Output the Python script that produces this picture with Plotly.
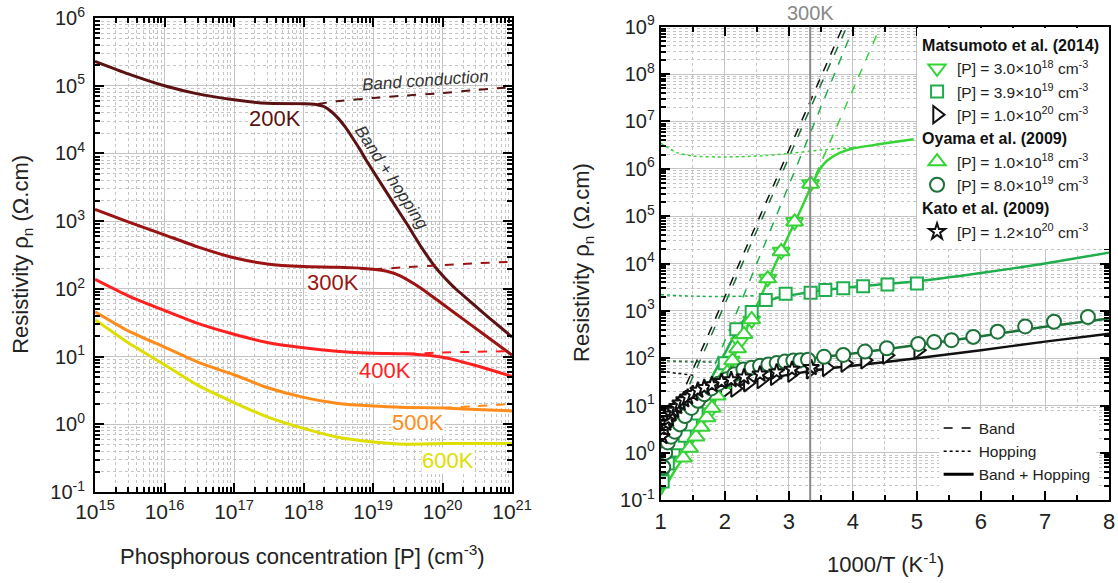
import plotly.graph_objects as go

FONT = "Liberation Sans, Arial, sans-serif"

# ---------------- Left panel data: resistivity vs [P] ----------------
P_200 = [1e15, 3e15, 1e16, 3e16, 1e17, 3e17, 1e18, 1.26e18, 1.58e18, 2e18, 2.5e18, 3.16e18, 4e18, 5e18, 6.3e18,
         7.9e18, 1e19, 2e19, 3.16e19, 5e19, 6.3e19, 7.9e19, 1e20, 1.26e20, 1.58e20, 2.24e20, 4e20, 1e21]
R_200 = [2.3e5, 1.5e5, 1.0e5, 7.6e4, 6.2e4, 5.5e4, 5.43e4, 5.4e4, 5.25e4, 4.9e4, 4.17e4, 3.3e4, 2.45e4, 1.74e4, 1.2e4,
         8.1e3, 5.5e3, 1.8e3, 8.7e2, 4.07e2, 2.88e2, 2.09e2, 1.58e2, 1.23e2, 98, 72, 42.7, 19.5]
P_200_band = [1.6e18, 3e18, 1e19, 3e19, 1e20, 3e20, 1e21]
R_200_band = [5.4e4, 5.9e4, 6.6e4, 7.2e4, 7.8e4, 8.7e4, 9.5e4]

P_300 = [1e15, 3e15, 1e16, 3e16, 1e17, 3e17, 1e18, 3.16e18, 1e19, 1.58e19, 2.5e19, 4e19, 6.3e19, 1e20, 2e20, 4e20, 1e21]
R_300 = [1.5e3, 980, 630, 417, 288, 234, 214, 209, 195, 182, 155, 117, 85, 60, 35.5, 21, 10.5]
P_300_band = [1e19, 3e19, 1e20, 3e20, 1e21]
R_300_band = [195, 209, 224, 240, 251]

P_STD = [1e15, 3e15, 1e16, 3e16, 1e17, 3e17, 1e18, 3e18, 1e19, 3e19, 1e20, 3e20, 1e21]
R_400 = [138, 79, 48, 31, 21.4, 16.2, 13.5, 12.0, 11.2, 11.0, 9.8, 7.4, 5.1]
P_400_band = [3e19, 1e20, 3e20, 1e21]
R_400_band = [11.0, 11.5, 11.8, 12.0]
R_500 = [46, 24, 13.8, 8.3, 5.4, 3.5, 2.5, 2.05, 1.86, 1.78, 1.74, 1.66, 1.58]
P_500_band = [1e20, 3e20, 1e21]
R_500_band = [1.74, 1.86, 2.0]
R_600 = [35, 16, 7.6, 3.8, 2.1, 1.29, 0.87, 0.65, 0.55, 0.51, 0.52, 0.52, 0.52]

TEMP_LABELS = ["200K", "300K", "400K", "500K", "600K"]
TEMP_COLORS = ["#5c1212", "#9b1313", "#ff2020", "#ff8c1a", "#dede00"]

P_TICKS = [1e15, 1e16, 1e17, 1e18, 1e19, 1e20, 1e21]
P_TICKTEXT = ["10<sup>15</sup>", "10<sup>16</sup>", "10<sup>17</sup>", "10<sup>18</sup>",
              "10<sup>19</sup>", "10<sup>20</sup>", "10<sup>21</sup>"]
RHO_L_TICKS = [1e-1, 1e0, 1e1, 1e2, 1e3, 1e4, 1e5, 1e6]
RHO_L_TICKTEXT = ["10<sup>-1</sup>", "10<sup>0</sup>", "10<sup>1</sup>", "10<sup>2</sup>",
                  "10<sup>3</sup>", "10<sup>4</sup>", "10<sup>5</sup>", "10<sup>6</sup>"]

# ---------------- Right panel data: resistivity vs 1000/T ----------------
# model curves (Band + Hopping)
X_M3e18 = [1.0, 1.2, 1.4, 1.6, 1.8, 2.0, 2.2, 2.4, 2.6, 2.8, 3.0, 3.2, 3.4, 3.5, 3.6, 3.8, 4.0, 4.4, 4.95]
Y_M3e18 = [0.13, 0.38, 1.0, 2.8, 8.9, 35, 160, 630, 2.6e3, 1.05e4, 4.0e4, 1.5e5, 6.0e5, 1.05e6, 1.5e6, 2.2e6, 2.7e6, 3.3e6, 4.2e6]
X_M39e19 = [1.0, 1.2, 1.4, 1.6, 1.8, 2.0, 2.2, 2.4, 2.6, 2.8, 3.0, 3.5, 4.0, 5.0, 6.0, 7.0, 8.0]
Y_M39e19 = [0.16, 0.71, 2.8, 11, 40, 126, 400, 950, 1.5e3, 1.85e3, 2.1e3, 2.7e3, 3.2e3, 4.2e3, 6.3e3, 1.0e4, 1.7e4]
X_M8e19 = [1.0, 1.2, 1.4, 1.6, 1.8, 2.0, 2.2, 2.5, 3.0, 3.5, 4.0, 5.0, 6.0, 7.0, 8.0]
Y_M8e19 = [0.8, 2.8, 7.1, 14, 25, 38, 52, 68, 85, 105, 126, 190, 290, 460, 690]
X_M1e20 = [1.0, 1.2, 1.4, 1.6, 1.8, 2.0, 2.5, 3.0, 3.5, 4.0, 5.0, 6.0, 7.0, 8.0]
Y_M1e20 = [2.2, 5.0, 8.9, 13, 18, 22, 33, 45, 58, 69, 100, 148, 224, 330]

# band-only curves (dashed)
X_B1e20 = [1.4, 1.8, 2.3, 2.8, 3.3, 3.85]
Y_B1e20 = [28, 470, 1.7e4, 5.9e5, 2.1e7, 1.05e9]
X_B8e19 = [1.45, 1.85, 2.35, 2.85, 3.35, 3.92]
Y_B8e19 = [28, 470, 1.7e4, 5.9e5, 2.1e7, 1.1e9]
X_B39e19 = [1.85, 2.0, 2.5, 3.0, 3.5, 4.02]
Y_B39e19 = [75, 230, 1.0e4, 4.5e5, 2.0e7, 1.05e9]
X_B3e18 = [3.3, 3.6, 4.0, 4.47]
Y_B3e18 = [3.2e5, 2.7e6, 4.7e7, 1.35e9]

# hopping-only curves (dotted)
X_H3e18 = [1.0, 1.25, 1.5, 2.0, 2.5, 3.0, 3.5, 4.0]
Y_H3e18 = [3.5e6, 2.2e6, 1.86e6, 1.78e6, 1.86e6, 2.1e6, 2.5e6, 2.8e6]
X_H39e19 = [1.0, 1.5, 2.0, 2.5]
Y_H39e19 = [2.2e3, 2.05e3, 2.0e3, 2.1e3]
X_H8e19 = [1.0, 1.4, 1.85]
Y_H8e19 = [89, 85, 83]
X_H1e20 = [1.0, 1.25, 1.55]
Y_H1e20 = [54, 48, 43]

# measured points
X_MAT3e18 = [1.75, 1.95, 2.1, 2.23, 2.42, 2.67, 2.88, 3.09, 3.34]
Y_MAT3e18 = [7.1, 25, 89, 220, 630, 4.8e3, 1.8e4, 7.6e4, 4.8e5]
X_MAT39e19 = [1.03, 1.11, 1.2, 1.28, 1.375, 1.47, 1.56, 1.75, 2.0, 2.18, 2.42, 2.64, 2.95, 3.34, 3.57, 3.85, 4.16, 4.54, 5.0]
Y_MAT39e19 = [0.25, 0.6, 1.12, 1.6, 2.3, 4.0, 6.8, 20, 78, 410, 950, 1.7e3, 2.3e3, 2.4e3, 2.75e3, 3.0e3, 3.3e3, 3.6e3, 3.8e3]
X_MAT1e20 = [1.1, 1.25, 1.4, 1.55, 1.7, 1.85, 2.0, 2.16, 2.36, 2.57, 2.78, 3.05, 3.34, 3.59, 3.88, 4.19, 4.53, 5.02]
Y_MAT1e20 = [3.5, 6.3, 10, 13, 16, 19, 21, 23, 30, 35, 41, 48, 56, 63, 78, 91, 115, 148]
X_OYA1e18 = [1.35, 1.45, 1.55, 1.63, 1.72, 1.8, 1.88, 1.96, 2.04, 2.12, 2.2, 2.3, 2.42, 2.67, 2.88, 3.09, 3.34]
Y_OYA1e18 = [0.79, 1.26, 2.2, 3.5, 5.6, 8.9, 16, 28, 50, 89, 160, 320, 660, 4.8e3, 1.8e4, 7.6e4, 4.8e5]
X_OYA8e19 = [1.04, 1.07, 1.11, 1.16, 1.22, 1.3, 1.38, 1.48, 1.58, 1.68, 1.79, 1.9, 2.03, 2.15, 2.29, 2.42, 2.55,
             2.68, 2.81, 2.94, 3.07, 3.18, 3.3, 3.55, 3.85, 4.19, 4.53, 5.02, 5.27, 5.54, 5.88, 6.26, 6.69, 7.14, 7.67]
Y_OYA8e19 = [0.5, 1.0, 1.66, 2.2, 2.8, 4.0, 6.0, 8.9, 12.6, 17.4, 23, 29, 36, 46, 58, 63, 69,
             74, 79, 85, 89, 91, 93, 107, 117, 138, 162, 200, 219, 240, 282, 363, 468, 589, 741]
X_KAT12e20 = [1.02, 1.05, 1.08, 1.12, 1.16, 1.2, 1.25, 1.3, 1.36, 1.42, 1.5, 1.58, 1.68, 1.8, 1.95, 2.1, 2.3, 2.55, 2.81, 3.05, 3.35]
Y_KAT12e20 = [2.2, 3.2, 4.2, 5.2, 6.6, 7.9, 9.5, 11.2, 13.2, 15, 17.8, 21, 24, 27.5, 32, 35, 40, 46, 51, 58, 63]

T_REF = 300  # K, vertical reference line
X_TICKS_R = [1, 2, 3, 4, 5, 6, 7, 8]
RHO_R_TICKS = [10.0 ** k for k in range(-1, 10)]
RHO_R_TICKTEXT = ["10<sup>%d</sup>" % k for k in range(-1, 10)]

C_BRIGHT = "#35d435"
C_MED = "#1fae4c"
C_DARK = "#1d7238"
C_BLACK = "#111111"

fig = go.Figure()

# ---- left panel traces ----
left_sets = [
    (P_200, R_200, P_200_band, R_200_band),
    (P_300, R_300, P_300_band, R_300_band),
    (P_STD, R_400, P_400_band, R_400_band),
    (P_STD, R_500, P_500_band, R_500_band),
    (P_STD, R_600, None, None),
]
for (px, ry, bx, by), col in zip(left_sets, TEMP_COLORS):
    if bx is not None:
        fig.add_trace(go.Scatter(x=bx, y=by, mode="lines", xaxis="x", yaxis="y",
                                 line=dict(color=col, width=2, dash="dash", shape="spline", smoothing=0.5),
                                 showlegend=False, hoverinfo="skip"))
    fig.add_trace(go.Scatter(x=px, y=ry, mode="lines", xaxis="x", yaxis="y",
                             line=dict(color=col, width=3, shape="spline", smoothing=0.5),
                             showlegend=False, hoverinfo="skip"))

# ---- right panel: lines ----
def rline(x, y, color, dash, width):
    fig.add_trace(go.Scatter(x=x, y=y, mode="lines", xaxis="x2", yaxis="y2",
                             line=dict(color=color, width=width, dash=dash, shape="spline", smoothing=0.6),
                             showlegend=False, hoverinfo="skip"))

rline(X_B1e20, Y_B1e20, C_BLACK, "dash", 1.5)
rline(X_B8e19, Y_B8e19, C_DARK, "dash", 1.5)
rline(X_B39e19, Y_B39e19, C_MED, "dash", 1.5)
rline(X_B3e18, Y_B3e18, C_BRIGHT, "dash", 1.5)
rline(X_H3e18, Y_H3e18, C_BRIGHT, "dot", 1.5)
rline(X_H39e19, Y_H39e19, C_MED, "dot", 1.5)
rline(X_H8e19, Y_H8e19, C_DARK, "dot", 1.5)
rline(X_H1e20, Y_H1e20, C_BLACK, "dot", 1.5)
rline(X_M1e20, Y_M1e20, C_BLACK, "solid", 2.5)
rline(X_M8e19, Y_M8e19, C_DARK, "solid", 2.5)
rline(X_M39e19, Y_M39e19, C_MED, "solid", 2.5)
rline(X_M3e18, Y_M3e18, C_BRIGHT, "solid", 2.5)

# ---- right panel: markers (legend 1) ----
def rmark(x, y, symbol, color, size, name, group, title):
    fig.add_trace(go.Scatter(
        x=x, y=y, mode="markers", xaxis="x2", yaxis="y2", name=name,
        legendgroup=group, legendgrouptitle=dict(text=title),
        marker=dict(symbol=symbol, size=size, color="white", line=dict(color=color, width=2)),
        hoverinfo="skip"))

CM3 = " cm<sup>-3</sup>"
MAT = "<b>Matsumoto et al. (2014)</b>"
OYA = "<b>Oyama et al. (2009)</b>"
KAT = "<b>Kato et al. (2009)</b>"
rmark(X_MAT3e18, Y_MAT3e18, "triangle-down", C_BRIGHT, 15, "[P] = 3.0×10<sup>18</sup>" + CM3, "mat", MAT)
rmark(X_MAT39e19, Y_MAT39e19, "square", C_MED, 12, "[P] = 3.9×10<sup>19</sup>" + CM3, "mat", MAT)
rmark(X_MAT1e20, Y_MAT1e20, "triangle-right", C_BLACK, 15, "[P] = 1.0×10<sup>20</sup>" + CM3, "mat", MAT)
rmark(X_OYA1e18, Y_OYA1e18, "triangle-up", C_BRIGHT, 15, "[P] = 1.0×10<sup>18</sup>" + CM3, "oya", OYA)
rmark(X_OYA8e19, Y_OYA8e19, "circle", C_DARK, 14, "[P] = 8.0×10<sup>19</sup>" + CM3, "oya", OYA)
rmark(X_KAT12e20, Y_KAT12e20, "star", C_BLACK, 12, "[P] = 1.2×10<sup>20</sup>" + CM3, "kat", KAT)

# ---- legend 2: line styles ----
for nm, dsh, w in [("Band", "dash", 1.5), ("Hopping", "dot", 1.5), ("Band + Hopping", "solid", 3)]:
    fig.add_trace(go.Scatter(x=[None], y=[None], mode="lines", xaxis="x2", yaxis="y2", name=nm,
                             line=dict(color="black", dash=dsh, width=w), legend="legend2"))

# ---- axes ----
def minor_log(lo, hi):
    return [m * 10.0 ** k for k in range(lo, hi) for m in range(2, 10)]

common = dict(ticks="inside", ticklen=9, tickwidth=1.5, tickcolor="black",
              showline=True, linecolor="black", linewidth=2, mirror="allticks",
              showgrid=True, gridcolor="#c4c4c4", gridwidth=1, zeroline=False, automargin=False)
minor_style = dict(ticks="inside", ticklen=5, tickcolor="black", showgrid=True,
                   gridcolor="#c4c4c4", griddash="dot")

fig.update_layout(
    width=1118, height=583, margin=dict(l=0, r=0, t=0, b=0, autoexpand=False),
    paper_bgcolor="white", plot_bgcolor="white",
    font=dict(family=FONT, color="#222"),
    xaxis=dict(domain=[0.085, 0.458], type="log", range=[15, 21], anchor="y",
               tickmode="array", tickvals=P_TICKS, ticktext=P_TICKTEXT,
               tickfont=dict(size=21, color="#222"), ticklabelstandoff=0,
               minor=dict(tickmode="array", tickvals=minor_log(15, 21), **minor_style),
               **common),
    yaxis=dict(domain=[0.156, 0.969], type="log", range=[-1, 6], anchor="x",
               tickmode="array", tickvals=RHO_L_TICKS, ticktext=RHO_L_TICKTEXT,
               tickfont=dict(size=20, color="#222"), ticklabelstandoff=4,
               minor=dict(tickmode="array", tickvals=minor_log(-1, 6), **minor_style),
               **common),
    xaxis2=dict(domain=[0.591, 0.992], range=[1, 8], anchor="y2",
                tickmode="array", tickvals=X_TICKS_R,
                tickfont=dict(size=22, color="#222"), ticklabelstandoff=0,
                minor=dict(dtick=0.5, **minor_style),
                **common),
    yaxis2=dict(domain=[0.142, 0.954], type="log", range=[-1, 9], anchor="x2",
                tickmode="array", tickvals=RHO_R_TICKS, ticktext=RHO_R_TICKTEXT,
                tickfont=dict(size=20, color="#222"),
                minor=dict(tickmode="array", tickvals=minor_log(-1, 9), **minor_style),
                **common),
    legend=dict(x=0.992, xanchor="right", y=0.952, yanchor="top", bgcolor="white",
                borderwidth=0, font=dict(size=15.5, color="#222", family=FONT),
                grouptitlefont=dict(size=16, color="#111", family=FONT),
                tracegroupgap=0, traceorder="grouped", itemwidth=30),
    legend2=dict(x=0.980, xanchor="right", y=0.157, yanchor="bottom", bgcolor="white",
                 borderwidth=0, font=dict(size=15.5, color="#222", family=FONT), itemwidth=30),
    showlegend=True,
)

# 300 K reference line
fig.add_shape(type="line", xref="x2", yref="y2 domain", x0=1000 / T_REF, x1=1000 / T_REF, y0=0, y1=1,
              line=dict(color="#8a8a8a", width=2))

ann = []
# temperature labels (log coords)
LABEL_POS = [(17.59, 4.52), (18.42, 2.09), (19.17, 0.80), (19.65, 0.03), (20.08, -0.53)]
for lab, col, (lx, ly) in zip(TEMP_LABELS, TEMP_COLORS, LABEL_POS):
    ann.append(dict(text=lab, x=lx, y=ly, xref="x", yref="y", showarrow=False,
                    xanchor="center", yanchor="middle",
                    font=dict(size=22, color=col, family=FONT), bgcolor="white", borderpad=0))
ann.append(dict(text="<i>Band conduction</i>", x=19.75, y=5.08, xref="x", yref="y", showarrow=False,
                xanchor="center", yanchor="middle",
                textangle=-4, font=dict(size=17, color="#333", family=FONT)))
ann.append(dict(text="<i>Band + hopping</i>", x=19.27, y=3.65, xref="x", yref="y", showarrow=False,
                xanchor="center", yanchor="middle",
                textangle=57, font=dict(size=17, color="#333", family=FONT)))
ann.append(dict(text="%dK" % T_REF, x=1000 / T_REF, y=0.9777, xref="x2", yref="paper", showarrow=False,
                xanchor="center", yanchor="middle",
                font=dict(size=20, color="#888", family=FONT)))
# axis titles
ann.append(dict(text="Resistivity ρ<sub>n</sub> (Ω.cm)", x=0.0197, y=0.563, xref="paper", yref="paper",
                xanchor="center", yanchor="middle",
                showarrow=False, textangle=-90, font=dict(size=22, color="#222", family=FONT)))
ann.append(dict(text="Resistivity ρ<sub>n</sub> (Ω.cm)", x=0.5215, y=0.549, xref="paper", yref="paper",
                xanchor="center", yanchor="middle",
                showarrow=False, textangle=-90, font=dict(size=22, color="#222", family=FONT)))
ann.append(dict(text="Phosphorous concentration [P] (cm<sup>-3</sup>)", x=0.271, y=0.048, xref="paper",
                yref="paper", xanchor="center", yanchor="middle",
                showarrow=False, font=dict(size=22, color="#222", family=FONT)))
ann.append(dict(text="1000/T (K<sup>-1</sup>)", x=0.7916, y=0.034, xref="paper", yref="paper",
                xanchor="center", yanchor="middle",
                showarrow=False, font=dict(size=22, color="#222", family=FONT)))
fig.update_layout(annotations=ann)

fig.write_html("out.html")
